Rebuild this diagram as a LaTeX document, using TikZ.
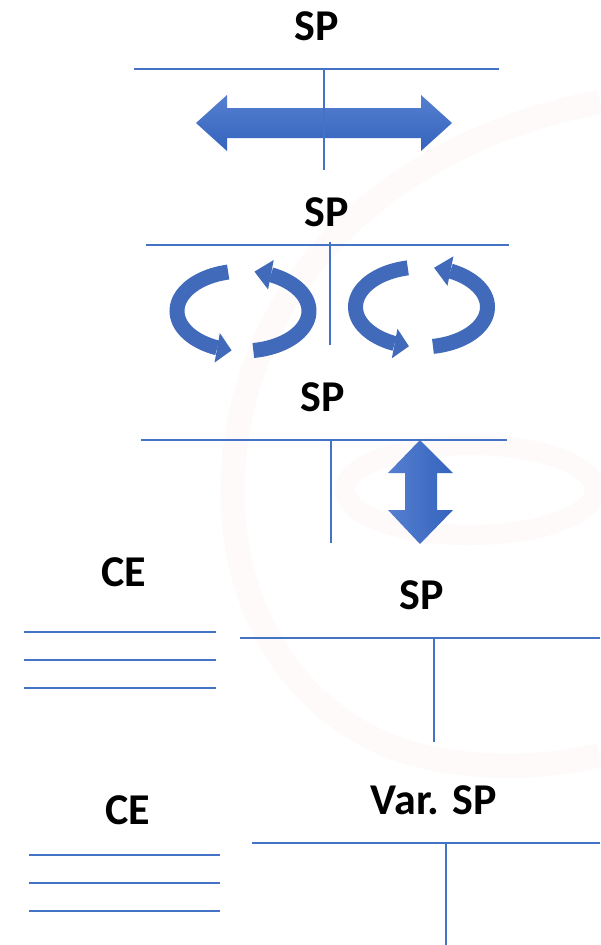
\documentclass[tikz,border=0pt]{standalone}
\usepackage{fontspec}
\setmainfont{Carlito}
\usetikzlibrary{calc}
\definecolor{ob}{HTML}{4472C4}
\definecolor{rb}{HTML}{416BBA}
\definecolor{alight}{HTML}{557FD0}
\definecolor{adark}{HTML}{3563BD}
\definecolor{wm}{RGB}{253,250,249}
% #1,#2 centre; #3 start angle; #4 head-base angle; #5 tip angle; #6 name
\newcommand\ribarrow[6]{%
  \draw[rib] plot[domain=#3:#4, samples=40, smooth, variable=\t] ({#1+66*cos(\t)},{#2+40*sin(\t)});
  \coordinate (#6b) at ({#1+66*cos(#4)},{#2+40*sin(#4)});
  \coordinate (#6t) at ({#1+66*cos(#5)},{#2+40*sin(#5)});
  \fill[rb] ($(#6b)!15pt!90:(#6t)$) -- (#6t) -- ($(#6b)!15pt!-90:(#6t)$) -- cycle;
}
\begin{document}
\begin{tikzpicture}[x=1pt,y=-1pt,
  ln/.style={ob, line width=2.5pt},
  lbl/.style={font=\fontsize{44}{50}\selectfont\bfseries, inner sep=0pt},
  rib/.style={draw=rb, line width=15pt}]
\useasboundingbox (0,0) rectangle (600,945);
\fill[white] (0,0) rectangle (600,945);
% faint watermark
\draw[wm, line width=24pt] (600,102) .. controls (450,130) and (300,220) .. (250,380)
  .. controls (200,540) and (260,700) .. (400,750) .. controls (480,775) and (560,765) .. (600,755);
\draw[wm, line width=20pt] (470,490) ellipse[x radius=125, y radius=45];
% panel 1
\node[lbl] (sp1) at (317,26) {SP};
\shade[top color=alight, bottom color=adark]
  (196,123) -- (227,95) -- (227,108) -- (421,108) -- (421,95) -- (452,123)
  -- (421,151) -- (421,138) -- (227,138) -- (227,151) -- cycle;
\draw[ln] (134,69) -- (499,69);
\draw[ln] (324,69) -- (324,170);
% panel 2
\node[lbl] (sp2) at (327,212) {SP};
\draw[ln] (146,245) -- (509,245);
\draw[ln] (330,242) -- (330,345);
\ribarrow{243}{311}{257}{113}{100}{la}
\ribarrow{243}{311}{81}{-65}{-80}{lb}
\ribarrow{421.5}{307}{258}{114}{101}{ra}
\ribarrow{421.5}{307}{80}{-64}{-79}{rbb}
% panel 3
\node[lbl] (sp3) at (323,397) {SP};
\draw[ln] (141,440) -- (507,440);
\draw[ln] (331,440) -- (331,543);
\shade[left color=alight, right color=adark]
  (420,440) -- (453,473) -- (437,473) -- (437,510) -- (453,510) -- (420,544)
  -- (388,510) -- (405,510) -- (405,473) -- (388,473) -- cycle;
% panel 4
\node[lbl] (ce1) at (124,572) {CE};
\draw[ln] (24,632) -- (216,632);
\draw[ln] (24,660) -- (216,660);
\draw[ln] (24,688) -- (216,688);
\node[lbl] (sp4) at (422,595) {SP};
\draw[ln] (240,638) -- (600,638);
\draw[ln] (434,638) -- (434,742);
% panel 5
\node[lbl] (ce2) at (128,810) {CE};
\draw[ln] (29,855) -- (220,855);
\draw[ln] (29,883) -- (220,883);
\draw[ln] (29,911) -- (220,911);
\node[lbl] (vsp) at (434,800) {Var. SP};
\draw[ln] (252,843) -- (600,843);
\draw[ln] (446,843) -- (446,945);
\end{tikzpicture}
\end{document}
